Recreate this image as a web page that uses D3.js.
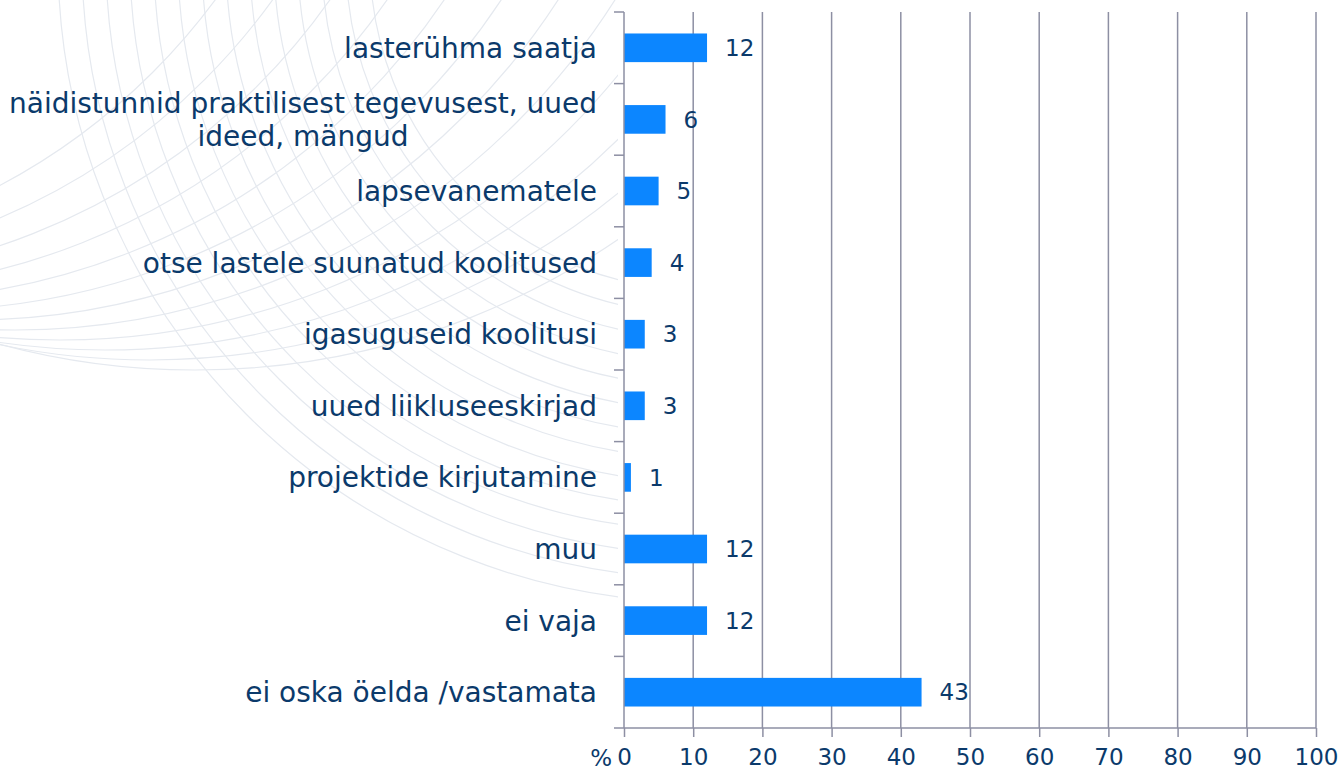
<!DOCTYPE html>
<html>
<style>
    body {
      margin: 0;
      overflow: hidden;
      background: #fff;
    }
    text {
      font-family: "DejaVu Sans", Verdana, sans-serif;
      fill: #0b3a6b;
    }
    .grid line {
      stroke: #8d8fa3;
      stroke-width: 1.5;
    }
    .axis path, .axis line {
      stroke: #8d8fa3;
      stroke-width: 1.5;
    }
    .deco {
      fill: none;
      stroke: #e5e9ef;
      stroke-width: 1.2;
    }
</style>
<script src="https://cdnjs.cloudflare.com/ajax/libs/d3/7.8.5/d3.min.js"></script>
<svg></svg>
<script>
var categories = [
  "lasterühma saatja",
  "näidistunnid praktilisest tegevusest, uued|ideed, mängud",
  "lapsevanematele",
  "otse lastele suunatud koolitused",
  "igasuguseid koolitusi",
  "uued liikluseeskirjad",
  "projektide kirjutamine",
  "muu",
  "ei vaja",
  "ei oska öelda /vastamata"
]
var values = [12, 6, 5, 4, 3, 3, 1, 12, 12, 43]
var xTicks = [0, 10, 20, 30, 40, 50, 60, 70, 80, 90, 100]

var width = 1341,
    height = 772,
    plotLeft = 624,
    plotRight = 1316,
    plotTop = 12,
    plotBottom = 728;

var svg = d3.select("svg")
    .attr("width", width)
    .attr("height", height)

// faint globe pattern in the background, left side only
svg.append("defs").append("clipPath")
    .attr("id", "deco-clip")
  .append("rect")
    .attr("x", 0).attr("y", 0)
    .attr("width", 618).attr("height", 640)

var deco = svg.append("g").attr("clip-path", "url(#deco-clip)")
d3.range(0, 14).forEach(function(i) {
  deco.append("circle")
      .attr("class", "deco")
      .attr("cx", 700)
      .attr("cy", -40)
      .attr("r", 330 + i * 24)
})
d3.range(0, 12).forEach(function(i) {
  deco.append("circle")
      .attr("class", "deco")
      .attr("cx", -300 + i * 45)
      .attr("cy", -380)
      .attr("r", 640 + i * 10)
})

var x = d3.scaleLinear().domain([0, 100]).range([plotLeft, plotRight])
var y = d3.scaleBand().domain(categories).range([plotTop, plotBottom]).paddingInner(0.6).paddingOuter(0.3)

// vertical gridlines
svg.append("g")
    .attr("class", "grid")
  .selectAll("line")
    .data(xTicks.slice(1))
  .enter().append("line")
    .attr("x1", function(d) {return x(d)})
    .attr("x2", function(d) {return x(d)})
    .attr("y1", plotTop)
    .attr("y2", plotBottom)

// bars
svg.append("g")
  .selectAll("rect")
    .data(values)
  .enter().append("rect")
    .attr("x", x(0))
    .attr("y", function(d, i) {return y(categories[i])})
    .attr("width", function(d) {return x(d) - x(0)})
    .attr("height", y.bandwidth())
    .style("fill", "#0c86ff")

// value labels
svg.append("g")
  .selectAll("text")
    .data(values)
  .enter().append("text")
    .attr("x", function(d) {return x(d) + 18})
    .attr("y", function(d, i) {return y(categories[i]) + y.bandwidth() / 2})
    .attr("dy", "0.36em")
    .style("font-size", "23px")
    .text(function(d) {return d})

// y axis: line plus ticks at band boundaries
var step = y.step()
var y0 = y(categories[0]) - y.paddingOuter() * step
var yAxis = svg.append("g").attr("class", "axis")
yAxis.append("line")
    .attr("x1", x(0)).attr("x2", x(0))
    .attr("y1", plotTop).attr("y2", plotBottom)
yAxis.selectAll(".tick")
    .data(d3.range(categories.length))
  .enter().append("line")
    .attr("class", "tick")
    .attr("x1", x(0) - 10).attr("x2", x(0))
    .attr("y1", function(i) {return y0 + i * step})
    .attr("y2", function(i) {return y0 + i * step})

// category labels (centered block, right aligned against the axis)
svg.append("g")
  .selectAll("text")
    .data(categories)
  .enter().append("text")
    .style("font-size", "28px")
    .each(function(d) {
      var lines = d.split("|")
      var t = d3.select(this)
      var cy = y(d) + y.bandwidth() / 2
      var lh = 33
      var tspans = lines.map(function(l, k) {
        return t.append("tspan")
            .attr("y", cy + (k - (lines.length - 1) / 2) * lh)
            .attr("dy", "0.36em")
            .text(l)
      })
      var w = d3.max(tspans, function(s) {return s.node().getComputedTextLength()})
      var cx = x(0) - 27 - w / 2
      tspans.forEach(function(s) {
        s.attr("x", cx).attr("text-anchor", "middle")
      })
    })

// x axis
var xAxis = svg.append("g")
    .attr("class", "axis")
    .attr("transform", "translate(0," + plotBottom + ")")
    .call(d3.axisBottom(x).tickValues(xTicks).tickSize(9).tickSizeOuter(0).tickPadding(12))

xAxis.select(".domain").attr("d", "M" + (x(0) - 10) + ",0H" + x(100))
xAxis.selectAll("text")
    .style("font-size", "23px")
    .attr("fill", "#0b3a6b")

svg.append("text")
    .attr("x", x(0) - 12)
    .attr("y", 766)
    .attr("text-anchor", "end")
    .style("font-size", "23px")
    .text("%")
</script>
</html>
